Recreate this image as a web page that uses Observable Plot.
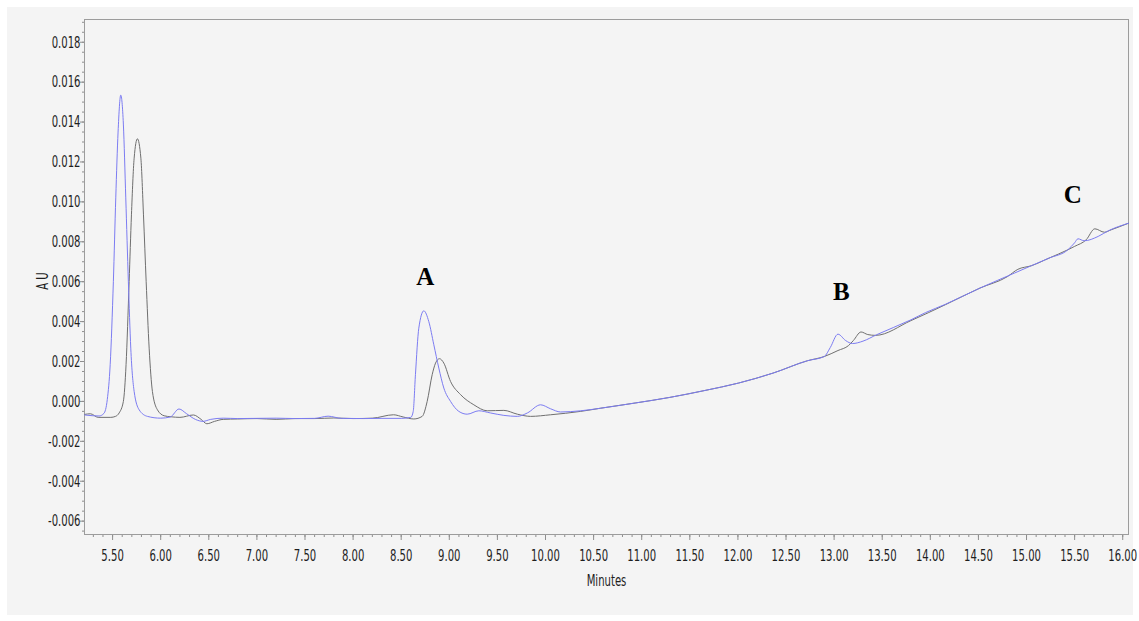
<!DOCTYPE html>
<html>
<head>
<meta charset="utf-8">
<script src="https://cdn.jsdelivr.net/npm/d3@7"></script>
<script src="https://cdn.jsdelivr.net/npm/@observablehq/plot@0.6"></script>
<style>
  html, body { margin: 0; padding: 0; background: #ffffff; }
  #panel { position: absolute; left: 7px; top: 7px; width: 1126px; height: 608px; background: #f4f4f4; }
  #panel svg { display: block; background: transparent; overflow: visible; }
</style>
</head>
<body>
<div id="panel"></div>
<script>
// Chromatogram traces: retention time (minutes) and absorbance (AU)
const blueMinutes = [
  5.21, 5.30, 5.36, 5.41, 5.445, 5.475, 5.508, 5.533, 5.557, 5.585,
  5.612, 5.637, 5.664, 5.689, 5.724, 5.776, 5.862, 6.00, 6.10, 6.19,
  6.27, 6.36, 6.44, 6.52, 6.65, 6.80, 7.00, 7.20, 7.40, 7.60,
  7.74, 7.88, 8.10, 8.30, 8.50, 8.60, 8.625, 8.648, 8.683, 8.735,
  8.787, 8.839, 8.891, 8.943, 9.013, 9.099, 9.186, 9.307, 9.429, 9.567,
  9.707, 9.811, 9.949, 10.053, 10.157, 10.366, 10.574, 10.932, 11.291, 11.649,
  12.007, 12.366, 12.724, 12.898, 12.96, 13.04, 13.12, 13.19, 13.30, 13.441,
  13.799, 13.95, 14.158, 14.516, 14.874, 15.05, 15.233, 15.43, 15.50, 15.535,
  15.60, 15.745, 15.85, 16.06
];
const blueAU = [
  -0.00068, -0.00072, -0.00073, -0.00060, 0.00010, 0.00184, 0.00600, 0.01020, 0.01350, 0.01535,
  0.01390, 0.01020, 0.00600, 0.00267, 0.00050, -0.00042, -0.00075, -0.00084, -0.00078, -0.00038,
  -0.00062, -0.00090, -0.00100, -0.00090, -0.00084, -0.00086, -0.00085, -0.00084, -0.00086, -0.00085,
  -0.00074, -0.00085, -0.00086, -0.00085, -0.00085, -0.00080, -0.00050, 0.00134, 0.00367, 0.00454,
  0.00400, 0.00284, 0.00167, 0.00067, 0.00000, -0.00050, -0.00064, -0.00047, -0.00058, -0.00070,
  -0.00075, -0.00058, -0.00017, -0.00037, -0.00053, -0.00047, -0.00034, -0.00008, 0.00020, 0.00054,
  0.00092, 0.00142, 0.00204, 0.00225, 0.00270, 0.00337, 0.00305, 0.00290, 0.00302, 0.00334,
  0.00409, 0.00445, 0.00487, 0.00568, 0.00643, 0.00680, 0.00718, 0.00760, 0.00795, 0.00815,
  0.00805, 0.00827, 0.00855, 0.00893
];

const grayMinutes = [
  5.21, 5.27, 5.35, 5.481, 5.53, 5.568, 5.612, 5.640, 5.672, 5.696,
  5.724, 5.758, 5.794, 5.821, 5.849, 5.88, 5.914, 5.966, 6.036, 6.106,
  6.20, 6.34, 6.42, 6.48, 6.56, 6.65, 6.80, 7.00, 7.20, 7.40,
  7.60, 7.80, 8.00, 8.20, 8.42, 8.52, 8.631, 8.718, 8.77, 8.822,
  8.857, 8.898, 8.943, 9.013, 9.117, 9.255, 9.394, 9.567, 9.707, 9.845,
  10.053, 10.366, 10.574, 10.932, 11.291, 11.649, 12.007, 12.366, 12.724, 12.898,
  13.04, 13.15, 13.20, 13.28, 13.35, 13.43, 13.799, 14.158, 14.516, 14.80,
  14.91, 15.05, 15.233, 15.43, 15.50, 15.62, 15.71, 15.81, 15.88, 16.06
];
const grayAU = [
  -0.00065, -0.00062, -0.00080, -0.00080, -0.00075, -0.00058, 0.00000, 0.00184, 0.00600, 0.00935,
  0.01219, 0.01316, 0.01219, 0.00935, 0.00600, 0.00267, 0.00050, -0.00042, -0.00072, -0.00077,
  -0.00080, -0.00068, -0.00090, -0.00112, -0.00100, -0.00090, -0.00088, -0.00086, -0.00090, -0.00086,
  -0.00086, -0.00083, -0.00086, -0.00084, -0.00067, -0.00078, -0.00088, -0.00075, 0.00000, 0.00134,
  0.00192, 0.00214, 0.00192, 0.00100, 0.00034, -0.00017, -0.00047, -0.00045, -0.00064, -0.00075,
  -0.00067, -0.00050, -0.00034, -0.00008, 0.00020, 0.00054, 0.00092, 0.00142, 0.00204, 0.00225,
  0.00255, 0.00280, 0.00305, 0.00348, 0.00335, 0.00331, 0.00405, 0.00485, 0.00568, 0.00625,
  0.00662, 0.00680, 0.00718, 0.00760, 0.00777, 0.00810, 0.00865, 0.00848, 0.00860, 0.00893
];

// Peak annotations
const peakLabels = ["A", "B", "C"];
const peakLabelMinutes = [8.75, 13.075, 15.48];
const peakLabelAU = [0.00626, 0.00546, 0.01032];

// Axis ticks
const xTickValues = [5.5, 6.0, 6.5, 7.0, 7.5, 8.0, 8.5, 9.0, 9.5, 10.0, 10.5, 11.0,
  11.5, 12.0, 12.5, 13.0, 13.5, 14.0, 14.5, 15.0, 15.5, 16.0];
const yTickValues = [-0.006, -0.004, -0.002, 0.000, 0.002, 0.004, 0.006, 0.008,
  0.010, 0.012, 0.014, 0.016, 0.018];
const xMinorTicks = d3.range(53, 161).map(d => d / 10);
const yMinorTicks = d3.range(-13, 39).map(d => d / 2000);

const blueRows = blueMinutes.map((t, i) => ({t, au: blueAU[i]}));
const grayRows = grayMinutes.map((t, i) => ({t, au: grayAU[i]}));

const sans = "'Liberation Sans Narrow', 'Arial Narrow', 'DejaVu Sans Condensed', sans-serif";
const ink = "#1e1e1e";
const axisGray = "#8e8e8e";

const plot = Plot.plot({
  width: 1126,
  height: 600,
  marginLeft: 77,
  marginTop: 12,
  marginRight: 5,
  marginBottom: 73,
  style: {fontFamily: sans, fontSize: "16.5px", background: "transparent", color: ink},
  x: {domain: [5.208, 16.06]},
  y: {domain: [-0.00667, 0.01914]},
  marks: [
    Plot.axisX({ticks: xMinorTicks, tickSize: 3, text: null, label: null, stroke: axisGray}),
    Plot.axisX({ticks: xTickValues, tickSize: 6, tickPadding: 9, tickFormat: d => d.toFixed(2),
      label: null, stroke: axisGray, fill: ink}),
    Plot.axisY({ticks: yMinorTicks, tickSize: 2, text: null, label: null, stroke: axisGray}),
    Plot.axisY({ticks: yTickValues, tickSize: 4, tickPadding: 0, tickFormat: d => d.toFixed(3),
      label: null, stroke: axisGray, fill: ink}),
    Plot.frame({stroke: "#9c9c9c"}),
    Plot.line(grayRows, {x: "t", y: "au", stroke: "#6f6f6f", strokeWidth: 1, curve: "monotone-x"}),
    Plot.line(blueRows, {x: "t", y: "au", stroke: "#7c7cf2", strokeWidth: 1, curve: "monotone-x"}),
    Plot.text(["A U"], {frameAnchor: "left", dx: -42, dy: 4, rotate: -90,
      textAnchor: "middle", lineAnchor: "middle", fill: ink}),
    Plot.text(["Minutes"], {frameAnchor: "bottom", dy: 46, lineAnchor: "middle", fill: ink}),
    Plot.text(peakLabels, {x: peakLabelMinutes, y: peakLabelAU, text: d => d,
      fontFamily: "'Liberation Serif', 'Times New Roman', serif", fontWeight: "bold",
      fontSize: 25, fill: "#000"})
  ]
});

// Condense the sans-serif labels horizontally
plot.querySelectorAll("text").forEach(el => {
  const g = el.closest("g[font-family]");
  if (g && /Serif/.test(g.getAttribute("font-family"))) return;
  const tr = el.getAttribute("transform");
  if (tr) {
    el.setAttribute("transform", tr + " scale(0.68,1)");
  } else {
    const x = +el.getAttribute("x") || 0, y = +el.getAttribute("y") || 0;
    el.setAttribute("transform", `translate(${x},${y}) scale(0.68,1) translate(${-x},${-y})`);
  }
});

document.getElementById("panel").appendChild(plot);
</script>
</body>
</html>
